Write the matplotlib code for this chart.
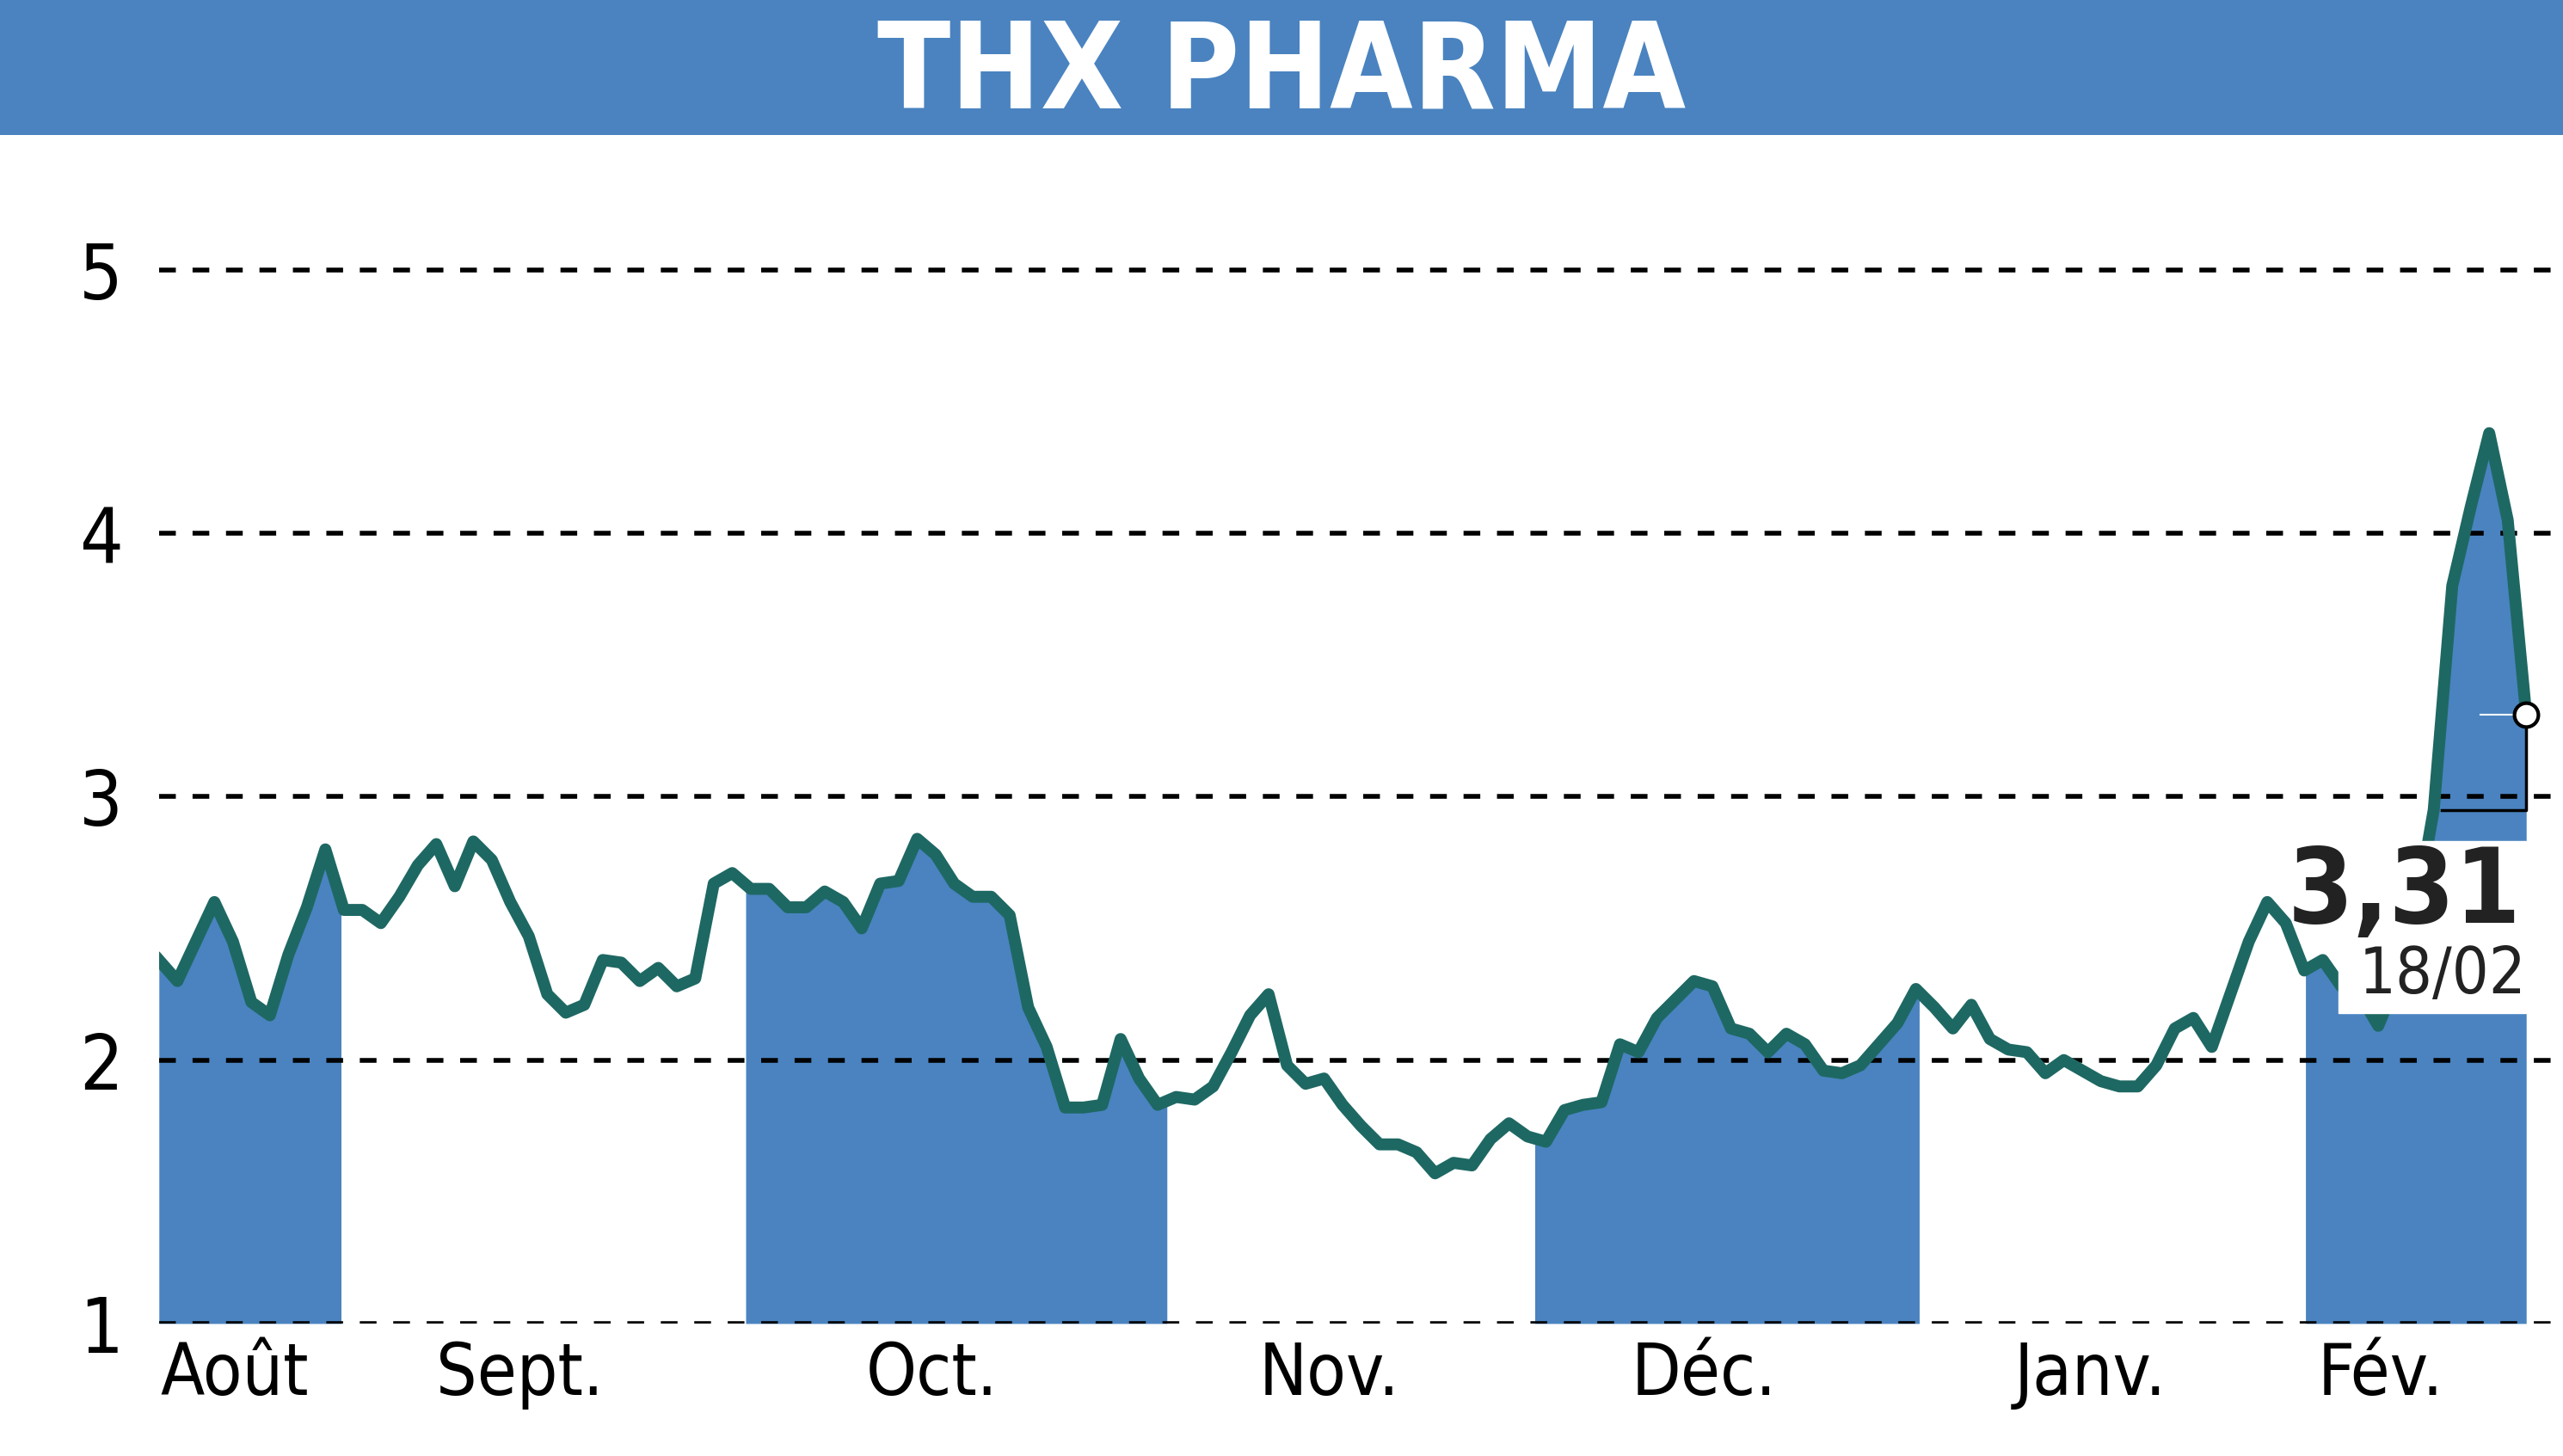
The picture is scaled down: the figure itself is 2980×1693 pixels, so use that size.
import numpy as np
import matplotlib.pyplot as plt
from matplotlib.patches import Rectangle

# closing prices, roughly one point per trading day (Aug -> 18/02)
prices = [2.38, 2.30, 2.45, 2.60, 2.45, 2.22, 2.17, 2.40, 2.58, 2.80,
          2.57, 2.57, 2.52, 2.62, 2.74, 2.82, 2.66, 2.83, 2.76, 2.60,
          2.47, 2.25, 2.18, 2.21, 2.38, 2.37, 2.30, 2.35, 2.28, 2.31,
          2.67, 2.71, 2.65, 2.65, 2.58, 2.58, 2.64, 2.60, 2.50, 2.67,
          2.68, 2.84, 2.78, 2.67, 2.62, 2.62, 2.55, 2.20, 2.05, 1.82,
          1.82, 1.83, 2.08, 1.93, 1.83, 1.86, 1.85, 1.90, 2.03, 2.17,
          2.25, 1.98, 1.91, 1.93, 1.83, 1.75, 1.68, 1.68, 1.65, 1.57,
          1.61, 1.60, 1.70, 1.76, 1.71, 1.69, 1.81, 1.83, 1.84, 2.06,
          2.03, 2.16, 2.23, 2.30, 2.28, 2.12, 2.10, 2.03, 2.10, 2.06,
          1.96, 1.95, 1.98, 2.06, 2.14, 2.27, 2.20, 2.12, 2.21, 2.08,
          2.04, 2.03, 1.95, 2.00, 1.96, 1.92, 1.90, 1.90, 1.98, 2.12,
          2.16, 2.05, 2.25, 2.45, 2.60, 2.52, 2.34, 2.38, 2.28, 2.25,
          2.13, 2.30, 2.55, 2.95, 3.80, 4.10, 4.38, 4.05, 3.31]

months = ['Août', 'Sept.', 'Oct.', 'Nov.', 'Déc.', 'Janv.', 'Fév.']
month_pos = [4.1, 19.6, 42.0, 63.6, 84.0, 105.0, 120.8]
# month boundaries (in day units) used for alternating shading
shade_spans = [(0, 9.9), (31.9, 54.8), (74.8, 95.7), (116.7, 128.7)]
last_value = '3,31'
last_date = '18/02'

blue = '#4a83c0'
green = '#1e6863'
fnt = dict(family='DejaVu Sans', fontstretch='condensed')

x = np.linspace(0, 128.7, len(prices))
y = np.array(prices)

fig = plt.figure(figsize=(29.8, 16.93), dpi=100)

# header band
hdr = fig.add_axes([0, 0.907, 1, 0.093])
hdr.set_facecolor(blue)
hdr.set_xticks([]); hdr.set_yticks([])
for s in hdr.spines.values():
    s.set_visible(False)
hdr.text(0.5, 0.45, 'THX PHARMA', color='white', fontsize=100, fontweight='bold',
         ha='center', va='center', **fnt)

ax = fig.add_axes([0.062, 0.091, 0.938, 0.787])
ax.set_xlim(0, 130.7)
ax.set_ylim(1, 5.35)

for a, b in shade_spans:
    m = (x >= a - 1e-9) & (x <= b + 1e-9)
    xs = np.concatenate([[a], x[m], [b]])
    ys = np.interp(xs, x, y)
    ax.fill_between(xs, 1, ys, color=blue, lw=0, zorder=1)

for v in [1, 2, 3, 4, 5]:
    ax.axhline(v, color='black', ls=(0, (3.5, 3.5)), lw=4, zorder=2)

ax.plot(x, y, color=green, lw=10, zorder=4, solid_joinstyle='round')

# end marker and bracket
xe, ye = x[-1], y[-1]
ax.plot([xe, xe, xe - 4.6], [ye, 2.95, 2.95], color='black', lw=2.5, zorder=5)
ax.plot([xe - 2.5, xe], [ye, ye], color='white', lw=1.5, zorder=5)
ax.plot(xe, ye, 'o', ms=20, mfc='white', mec='black', mew=3, zorder=6)

# label box hides the line underneath
ax.add_patch(Rectangle((xe - 10.2, 2.18), 10.2, 0.65, color='white', zorder=4.5))
ax.text(xe - 0.3, 2.63, last_value, fontsize=88, fontweight='bold', ha='right',
        va='center', color='#222222', zorder=7, **fnt)
ax.text(xe, 2.32, last_date, fontsize=54, ha='right', va='center',
        color='#222222', zorder=7, **fnt)

ax.set_yticks([1, 2, 3, 4, 5])
ax.set_yticklabels(['1', '2', '3', '4', '5'], fontsize=64, **fnt)
ax.set_xticks(month_pos)
ax.set_xticklabels(months, fontsize=60, **fnt)
ax.tick_params(length=0, pad=14)
ax.tick_params(axis='y', pad=30)
for s in ax.spines.values():
    s.set_visible(False)

fig.savefig('out.png', dpi=100)
